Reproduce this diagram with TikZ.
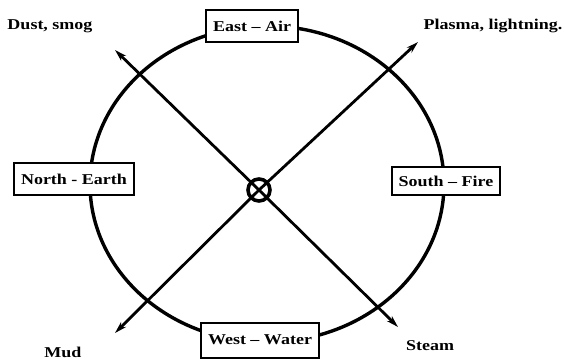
\documentclass[tikz,border=0pt]{standalone}
\usepackage{fontspec}
\newfontfamily\lab[FakeStretch=1.2]{Liberation Serif}
\usetikzlibrary{arrows.meta}
\begin{document}
\begin{tikzpicture}[x=1pt,y=-1pt,
  lbl/.style={font=\lab\bfseries\fontsize{15}{18}\selectfont, inner sep=0pt},
  elbox/.style={lbl, draw, line width=2pt, fill=white, inner xsep=7pt, minimum height=32pt},
  ray/.style={line width=2.8pt, -{Stealth[length=12pt,width=7pt]}},
  ring/.style={draw, circle, line width=3.6pt, minimum size=22pt, inner sep=0pt}]
\useasboundingbox (0,0) rectangle (565,361);
% great circle
\draw[line width=3.4pt] (267,184) ellipse [x radius=177, y radius=158];
% centre symbol
\node[ring] (c) at (259,190) {};
\coordinate (nw) at (115,50);
\coordinate (ne) at (418,42);
\coordinate (sw) at (115,333);
\coordinate (se) at (398,327);
\draw[ray] (c.center) -- (nw);
\draw[ray] (c.center) -- (ne);
\draw[ray] (c.center) -- (sw);
\draw[ray] (c.center) -- (se);
% element boxes
\node[elbox] (east) at (252,26) {East – Air};
\node[elbox] (north) at (74,179) {North - Earth};
\node[elbox, minimum height=28pt] (south) at (446,181) {South – Fire};
\node[elbox, minimum height=35pt] (west) at (260,340) {West – Water};
% outer labels
\node[lbl] (dust) at (50,26) {Dust, smog};
\node[lbl] (plasma) at (493,26) {Plasma, lightning.};
\node[lbl] (mud) at (63,352) {Mud};
\node[lbl] (steam) at (430,346) {Steam};
\end{tikzpicture}
\end{document}
